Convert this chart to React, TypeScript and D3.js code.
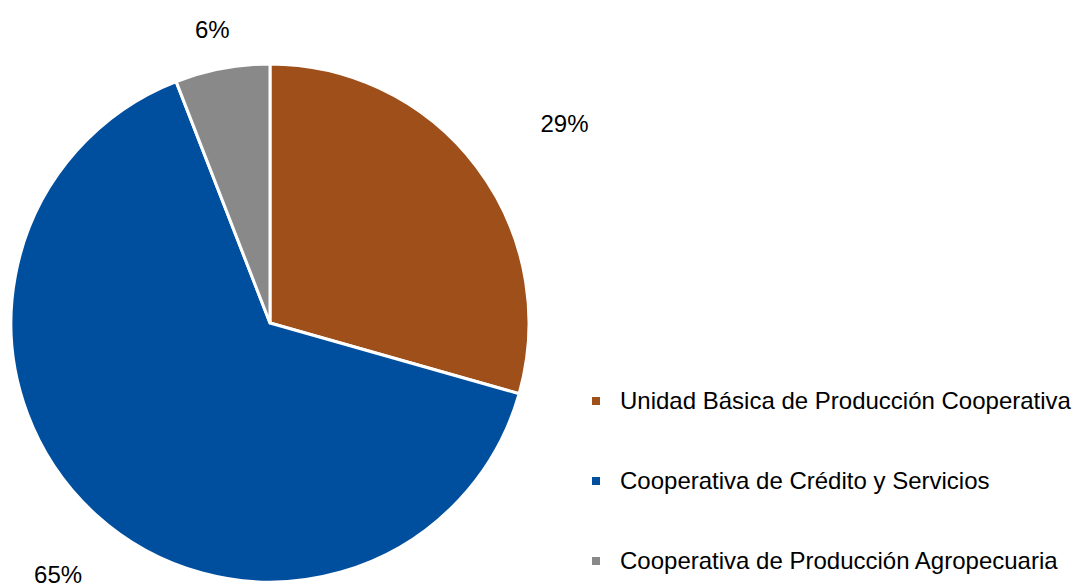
import React from "react";
import * as d3 from "d3";

const categories = [
  "Unidad Básica de Producción Cooperativa",
  "Cooperativa de Crédito y Servicios",
  "Cooperativa de Producción Agropecuaria",
];
const values = [29.4, 64.7, 5.9];
const colors = ["#9E4F1A", "#004F9E", "#898989"];
const labelRadii = [356, 329, 299];
const labelShiftDeg = [2.9, -2.2, -0.5];

const W = 1075;
const H = 586;

export default function App() {
  const cx = 270;
  const cy = 323;
  const r = 259;
  const total = d3.sum(values);
  const fmt = d3.format(".0%");
  const pie = d3
    .pie<number>()
    .sort(null)
    .value((d) => d)
    .startAngle(0)
    .endAngle(2 * Math.PI);
  const arcs = pie(values);
  const arc = d3.arc<d3.PieArcDatum<number>>().innerRadius(0).outerRadius(r);

  const legendY = d3.scalePoint<number>().domain([0, 1, 2]).range([401, 561]);

  return (
    <svg
      width={W}
      height={H}
      style={{ position: "absolute", left: 0, top: 0, fontFamily: "'Liberation Sans', Arial, sans-serif" }}
    >
      <rect width={W} height={H} fill="#fff" />
      <g transform={`translate(${cx},${cy})`}>
        {arcs.map((a, i) => (
          <path key={i} d={arc(a) || ""} fill={colors[i]} stroke="#fff" strokeWidth={3} strokeLinejoin="round" />
        ))}
        {arcs.map((a, i) => {
          const mid = (a.startAngle + a.endAngle) / 2 + (labelShiftDeg[i] * Math.PI) / 180;
          const lr = labelRadii[i];
          const x = lr * Math.sin(mid);
          const y = -lr * Math.cos(mid);
          return (
            <text key={i} x={x} y={y + 8.5} textAnchor="middle" fontSize={24} fill="#000">
              {fmt(values[i] / total)}
            </text>
          );
        })}
      </g>
      {categories.map((c, i) => (
        <g key={c} transform={`translate(0,${legendY(i)})`}>
          <rect x={592} y={-4} width={8} height={8} fill={colors[i]} />
          <text x={620} y={8} fontSize={24} fill="#000">
            {c}
          </text>
        </g>
      ))}
    </svg>
  );
}
